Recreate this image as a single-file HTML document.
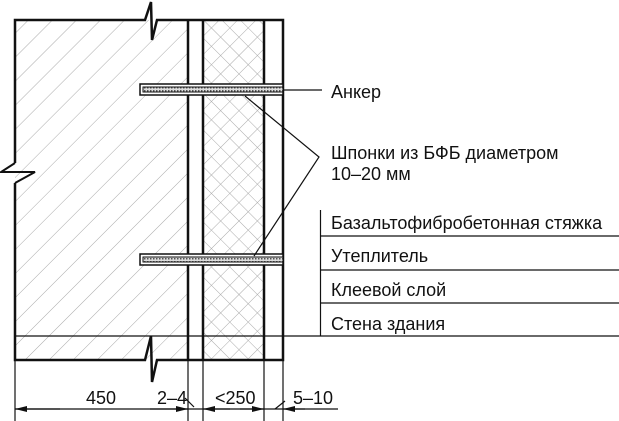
<!DOCTYPE html>
<html><head><meta charset="utf-8"><style>
html,body{margin:0;padding:0;background:#fff;}
svg{display:block;}
text{font-family:"Liberation Sans",Arial,sans-serif;fill:#111;}
</style></head><body>
<svg width="619" height="421" viewBox="0 0 619 421" xmlns="http://www.w3.org/2000/svg">
<defs>
<pattern id="diag" patternUnits="userSpaceOnUse" width="17" height="17" patternTransform="rotate(45)">
<line x1="0" y1="0" x2="0" y2="17" stroke="#aaa" stroke-width="1"/>
</pattern>
<pattern id="cross" patternUnits="userSpaceOnUse" width="13" height="13" patternTransform="rotate(45)">
<line x1="0" y1="0" x2="0" y2="13" stroke="#aaa" stroke-width="1"/>
<line x1="0" y1="0" x2="13" y2="0" stroke="#aaa" stroke-width="1"/>
</pattern>
<pattern id="dots" patternUnits="userSpaceOnUse" width="3" height="3">
<rect width="3" height="3" fill="#ddd"/>
<rect width="1.5" height="1.5" fill="#555"/>
</pattern>
<marker id="ar" viewBox="0 0 12 6" refX="12" refY="3" markerWidth="12" markerHeight="6" orient="auto" markerUnits="userSpaceOnUse">
<path d="M0,0 L12,3 L0,6 z" fill="#111"/>
</marker>
</defs>
<rect x="15" y="20" width="173" height="340" fill="url(#diag)"/>
<rect x="203" y="20" width="61" height="340" fill="url(#cross)"/>
<g stroke="#111" fill="none">
<polyline stroke-width="2.5" points="15,163 15,20 145,20 151,2 152,40 157,20 283,20 283,360 157,360 152,382 151,336 145,360 15,360 15,183"/>
<polyline stroke-width="2" points="15,163 1,172 35,172 15,183"/>
<line x1="188" y1="20" x2="188" y2="360" stroke-width="2.5"/>
<line x1="203" y1="20" x2="203" y2="360" stroke-width="2.5"/>
<line x1="264" y1="20" x2="264" y2="360" stroke-width="2.5"/>
<rect x="140" y="84" width="143" height="11" fill="#fff" stroke-width="1.5"/>
<rect x="143" y="87" width="140" height="5" fill="url(#dots)" stroke-width="1"/>
<rect x="140" y="254" width="143" height="11" fill="#fff" stroke-width="1.5"/>
<rect x="143" y="257" width="140" height="5" fill="url(#dots)" stroke-width="1"/>
<line x1="283" y1="90" x2="322" y2="90" stroke-width="1.2"/>
<polyline stroke-width="1.2" points="245,96 319,157 254,256"/>
<line x1="320.5" y1="210" x2="320.5" y2="336" stroke-width="1.2"/>
<line x1="320" y1="236" x2="619" y2="236" stroke-width="1.2"/>
<line x1="320" y1="270" x2="619" y2="270" stroke-width="1.2"/>
<line x1="320" y1="303" x2="619" y2="303" stroke-width="1.2"/>
<line x1="15" y1="336" x2="619" y2="336" stroke-width="1.2"/>
<g stroke-width="1.2">
<line x1="15" y1="360" x2="15" y2="421"/>
<line x1="188" y1="360" x2="188" y2="421"/>
<line x1="203" y1="360" x2="203" y2="421"/>
<line x1="264" y1="360" x2="264" y2="421"/>
<line x1="283" y1="360" x2="283" y2="421"/>
<line x1="15" y1="409" x2="338" y2="409"/>
<line x1="185" y1="398" x2="194" y2="407"/>
<line x1="275" y1="409" x2="285" y2="401"/>
</g>
<line x1="60" y1="409" x2="15" y2="409" stroke-width="1.2" marker-end="url(#ar)"/>
<line x1="150" y1="409" x2="188" y2="409" stroke-width="1.2" marker-end="url(#ar)"/>
<line x1="230" y1="409" x2="203" y2="409" stroke-width="1.2" marker-end="url(#ar)"/>
<line x1="240" y1="409" x2="264" y2="409" stroke-width="1.2" marker-end="url(#ar)"/>
<line x1="305" y1="409" x2="283" y2="409" stroke-width="1.2" marker-end="url(#ar)"/>
</g>
<g font-size="18">
<text x="331" y="98">Анкер</text>
<text x="331" y="159">Шпонки из БФБ диаметром</text>
<text x="331" y="180">10–20 мм</text>
<text x="331" y="229">Базальтофибробетонная стяжка</text>
<text x="331" y="262">Утеплитель</text>
<text x="331" y="296">Клеевой слой</text>
<text x="331" y="330">Стена здания</text>
<text x="86" y="404">450</text>
<text x="157" y="404">2–4</text>
<text x="215" y="404">&lt;250</text>
<text x="293" y="404">5–10</text>
</g>
</svg>
</body></html>
